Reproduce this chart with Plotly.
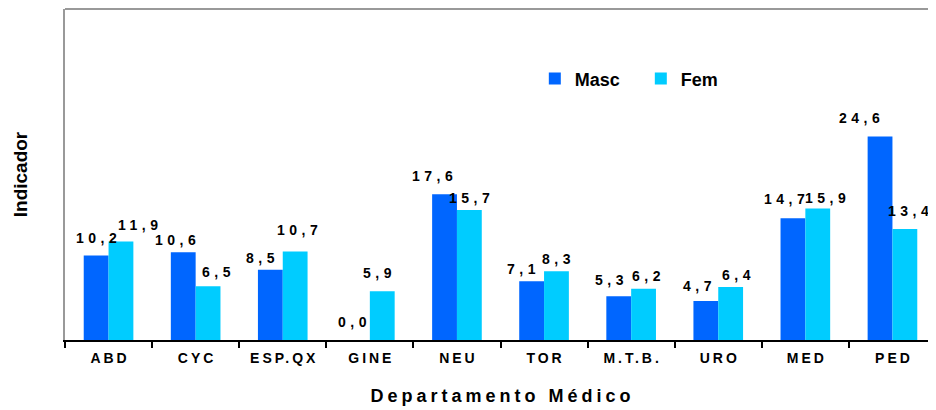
import plotly.graph_objects as go

categories = ["ABD", "CYC", "ESP.QX", "GINE", "NEU", "TOR", "M.T.B.", "URO", "MED", "PED"]
masc = [10.2, 10.6, 8.5, 0.0, 17.6, 7.1, 5.3, 4.7, 14.7, 24.6]
fem = [11.9, 6.5, 10.7, 5.9, 15.7, 8.3, 6.2, 6.4, 15.9, 13.4]

# label nudges (pixels) as placed in the original chart
masc_dx = [0, -8, -10, -5, -12, -10, -9, -8, -8, -21]
masc_dy = [12, 6, 6, 12, 12, 6, 10, 9, 13, 12]
fem_dx = [17, 8, 2, -5, 0, 0, 3, 6, 8, 4]
fem_dy = [11, 8, 15, 12, 6, 6, 7, 6, 4, 12]

FONT = "Liberation Sans, Arial, sans-serif"
MASC_C = "#0066FF"
FEM_C = "#00CCFF"
BAR_HALF = 12.4  # half bar width in px (bar offset inside the group)


def sp(s, px):
    # letter spacing without trailing space after the last glyph
    return f'<span style="letter-spacing:{px}px">{s[:-1]}</span>{s[-1]}'


def fmt(v):
    return sp(f"{v:.1f}".replace(".", ","), 4.5)


fig = go.Figure()
fig.add_trace(go.Bar(name="Masc", x=categories, y=masc, marker_color=MASC_C,
                     marker_line_width=0))
fig.add_trace(go.Bar(name="Fem", x=categories, y=fem, marker_color=FEM_C,
                     marker_line_width=0))

annotations = []
for cat, v, dx, dy in zip(categories, masc, masc_dx, masc_dy):
    annotations.append(dict(x=cat, y=v, xref="x", yref="y", text=fmt(v), showarrow=False,
                            xanchor="center", yanchor="bottom",
                            xshift=-BAR_HALF + dx, yshift=dy - 4,
                            font=dict(family=FONT, size=14, color="black", weight="bold")))
for cat, v, dx, dy in zip(categories, fem, fem_dx, fem_dy):
    annotations.append(dict(x=cat, y=v, xref="x", yref="y", text=fmt(v), showarrow=False,
                            xanchor="center", yanchor="bottom",
                            xshift=BAR_HALF + dx, yshift=dy - 4,
                            font=dict(family=FONT, size=14, color="black", weight="bold")))

fig.update_layout(
    width=936, height=410,
    margin=dict(l=57, r=8, t=1, b=78),
    paper_bgcolor="white", plot_bgcolor="white",
    barmode="group", bargap=0.43, bargroupgap=0,
    font=dict(family=FONT, color="black"),
    showlegend=True,
    legend=dict(orientation="h", x=0.5394, y=0.789, xanchor="left", yanchor="middle",
                font=dict(family=FONT, size=18, weight="bold"),
                itemwidth=30, entrywidth=61, entrywidthmode="pixels",
                bgcolor="rgba(0,0,0,0)"),
    xaxis=dict(automargin=False, showline=True, linecolor="black", linewidth=2,
               ticks="outside", tickson="boundaries", ticklen=6, tickcolor="black",
               tickwidth=1.5, ticklabelstandoff=4,
               tickmode="array", tickvals=categories,
               ticktext=[sp(c, 3) for c in categories],
               tickfont=dict(family=FONT, size=14, weight="bold"),
               title=dict(text=sp("Departamento Médico", 4), standoff=25,
                          font=dict(family=FONT, size=18, weight="bold"))),
    yaxis=dict(automargin=False, range=[0, 40], showgrid=False, zeroline=False,
               showticklabels=False,
               showline=True, linecolor="#999999", linewidth=2, ticks="",
               title=dict(text="Indicador", standoff=30,
                          font=dict(family=FONT, size=19, weight="bold"))),
    shapes=[dict(type="line", xref="paper", yref="paper", x0=0, x1=1, y0=1, y1=1,
                 line=dict(color="#999999", width=2))],
    annotations=annotations,
)

fig.write_html("out.html")
